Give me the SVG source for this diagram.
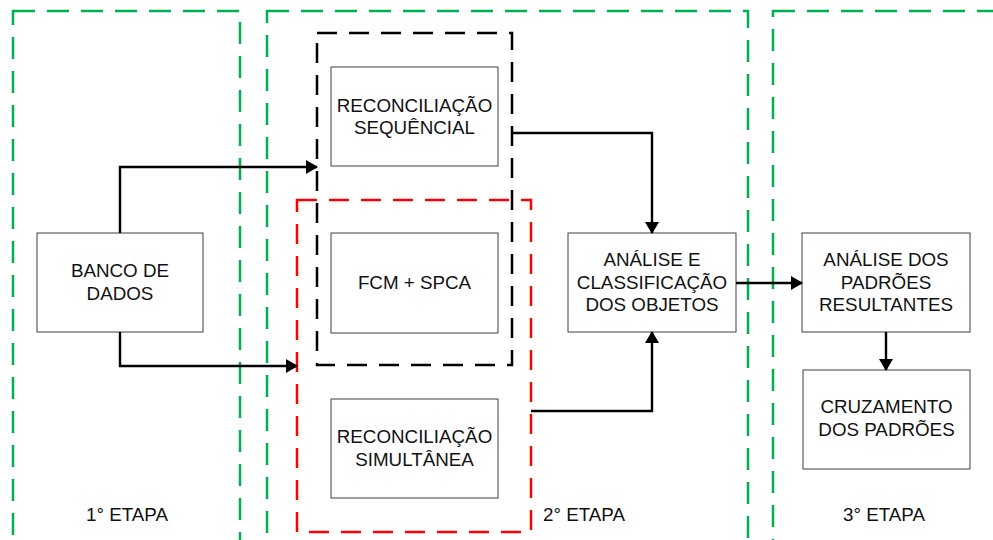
<svg xmlns="http://www.w3.org/2000/svg" width="993" height="540" viewBox="0 0 993 540">
<style>
.stage{fill:none;stroke:#00b050;stroke-width:2.5;stroke-dasharray:22 12}
.grp-k{fill:none;stroke:#000;stroke-width:2.5;stroke-dasharray:20 12}
.grp-r{fill:none;stroke:#ff0000;stroke-width:2.5;stroke-dasharray:20 12}
.box{fill:#fff;stroke:#404040;stroke-width:1}
.t{font-family:"Liberation Sans",Arial,sans-serif;font-size:18.8px;fill:#111;text-anchor:middle}
.c{fill:none;stroke:#000;stroke-width:2.4;marker-end:url(#ah)}
</style>
<defs>
<marker id="ah" markerUnits="userSpaceOnUse" markerWidth="12" markerHeight="14" viewBox="0 0 12 14" refX="11" refY="7" orient="auto">
<path d="M0,0 L12,7 L0,14 Z" fill="#000"/>
</marker>
</defs>
<g id="stages">
<rect class="stage" x="13" y="11" width="227" height="545"/>
<rect class="stage" x="267" y="11" width="481" height="545"/>
<rect class="stage" x="773" y="11" width="240" height="545"/>
<text class="t" x="127" y="521">1° ETAPA</text>
<text class="t" x="584" y="521">2° ETAPA</text>
<text class="t" x="884" y="521">3° ETAPA</text>
</g>
<g id="groups">
<rect class="grp-k" x="317" y="33" width="195" height="332"/>
<rect class="grp-r" x="297" y="200" width="234" height="332"/>
</g>
<g id="banco"><rect class="box" x="37" y="233" width="166" height="99"/>
<text class="t" x="120" y="277">BANCO DE</text><text class="t" x="120" y="300">DADOS</text></g>
<g id="seq"><rect class="box" x="331" y="67" width="167" height="99"/>
<text class="t" x="414.5" y="111.5">RECONCILIAÇÃO</text><text class="t" x="414.5" y="134">SEQUÊNCIAL</text></g>
<g id="fcm"><rect class="box" x="331" y="233" width="167" height="100"/>
<text class="t" x="414.5" y="289">FCM + SPCA</text></g>
<g id="sim"><rect class="box" x="331" y="399" width="167" height="99"/>
<text class="t" x="414.5" y="443">RECONCILIAÇÃO</text><text class="t" x="414.5" y="466">SIMULTÂNEA</text></g>
<g id="analise"><rect class="box" x="568" y="233" width="168" height="99"/>
<text class="t" x="652" y="266">ANÁLISE E</text><text class="t" x="652" y="288.5">CLASSIFICAÇÃO</text><text class="t" x="652" y="311">DOS OBJETOS</text></g>
<g id="padroes"><rect class="box" x="802" y="233" width="168" height="99"/>
<text class="t" x="886" y="266">ANÁLISE DOS</text><text class="t" x="886" y="288.5">PADRÕES</text><text class="t" x="886" y="311">RESULTANTES</text></g>
<g id="cruz"><rect class="box" x="803" y="370" width="167" height="99"/>
<text class="t" x="886.5" y="413">CRUZAMENTO</text><text class="t" x="886.5" y="436">DOS PADRÕES</text></g>
<g id="connectors">
<path class="c" d="M120,233 V167 H317"/>
<path class="c" d="M120,332 V366 H297"/>
<path class="c" d="M513,133 H652 V233"/>
<path class="c" d="M531,411 H652 V332"/>
<path class="c" d="M736,283 H802"/>
<path class="c" d="M886,332 V370"/>
</g>
</svg>
